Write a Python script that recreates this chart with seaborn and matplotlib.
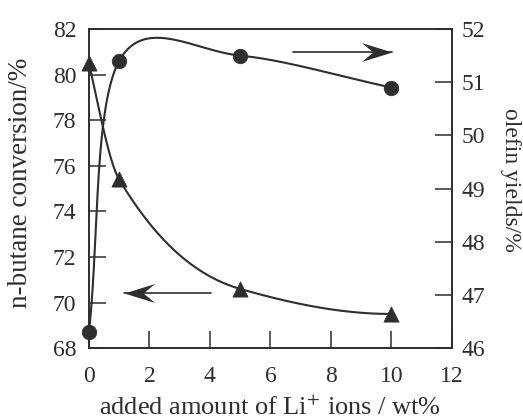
import numpy as np
import pandas as pd
import matplotlib
matplotlib.use("Agg")
import matplotlib.pyplot as plt
from matplotlib.path import Path
import seaborn as sns

# Li+ loading (wt%) and measured responses
li_loading = [0, 1, 5, 10]
butane_conversion = [80.5, 75.4, 70.6, 69.5]   # left axis, %
olefin_yield = [46.3, 51.4, 51.5, 50.9]        # right axis, %

x_ticks = [0, 2, 4, 6, 8, 10, 12]
left_ticks = [68, 70, 72, 74, 76, 78, 80, 82]
right_ticks = [46, 47, 48, 49, 50, 51, 52]

X_LIM = (0, 12)
LEFT_LIM = (68, 82)
RIGHT_LIM = (46, 52)

INK = "#2e2e2e"

FIG_W, FIG_H = 5.23, 4.20
AX_RECT = [0.170, 0.171, 0.694, 0.760]
AX_W_PX = AX_RECT[2] * FIG_W * 100
AX_H_PX = AX_RECT[3] * FIG_H * 100


def pchip_curve(x, y, n=400):
    """Shape-preserving piecewise cubic Hermite curve (Fritsch-Carlson)."""
    x = np.asarray(x, float)
    y = np.asarray(y, float)
    h = np.diff(x)
    d = np.diff(y) / h
    m = np.zeros_like(y)
    for k in range(1, len(x) - 1):
        if d[k - 1] * d[k] > 0:
            w1 = 2 * h[k] + h[k - 1]
            w2 = h[k] + 2 * h[k - 1]
            m[k] = (w1 + w2) / (w1 / d[k - 1] + w2 / d[k])

    def end_slope(h0, h1, d0, d1):
        s = ((2 * h0 + h1) * d0 - h0 * d1) / (h0 + h1)
        if np.sign(s) != np.sign(d0):
            return 0.0
        if np.sign(d0) != np.sign(d1) and abs(s) > abs(3 * d0):
            return 3 * d0
        return s

    m[0] = end_slope(h[0], h[1], d[0], d[1])
    m[-1] = end_slope(h[-1], h[-2], d[-1], d[-2])
    xs = np.linspace(x[0], x[-1], n)
    i = np.clip(np.searchsorted(x, xs) - 1, 0, len(x) - 2)
    t = (xs - x[i]) / h[i]
    h00 = 2 * t**3 - 3 * t**2 + 1
    h10 = t**3 - 2 * t**2 + t
    h01 = -2 * t**3 + 3 * t**2
    h11 = t**3 - t**2
    ys = h00 * y[i] + h10 * h[i] * m[i] + h01 * y[i + 1] + h11 * h[i] * m[i + 1]
    return xs, ys


def catmull_rom_curve(x, y, ylim, n_seg=120):
    """Uniform Catmull-Rom curve through the points, built in screen
    proportions so the bends look right on the page."""
    sx = AX_W_PX / (X_LIM[1] - X_LIM[0])
    sy = AX_H_PX / (ylim[1] - ylim[0])
    P = np.column_stack([np.asarray(x, float) * sx,
                         (np.asarray(y, float) - ylim[0]) * sy])
    P = np.vstack([2 * P[0] - P[1], P, 2 * P[-1] - P[-2]])
    out = []
    s = np.linspace(0, 1, n_seg)[:, None]
    h00 = 2 * s**3 - 3 * s**2 + 1
    h10 = s**3 - 2 * s**2 + s
    h01 = -2 * s**3 + 3 * s**2
    h11 = s**3 - s**2
    for i in range(1, len(P) - 2):
        p0, p1, p2, p3 = P[i - 1], P[i], P[i + 1], P[i + 2]
        seg = h00 * p1 + h10 * (p2 - p0) / 2 + h01 * p2 + h11 * (p3 - p1) / 2
        out.append(seg if i == 1 else seg[1:])
    C = np.vstack(out)
    return C[:, 0] / sx, C[:, 1] / sy + ylim[0]


sns.set_style("ticks")
plt.rcParams["font.family"] = ["Liberation Serif", "DejaVu Serif"]
plt.rcParams["mathtext.fontset"] = "stix"
plt.rcParams["axes.edgecolor"] = INK
plt.rcParams["xtick.color"] = INK
plt.rcParams["ytick.color"] = INK
plt.rcParams["text.color"] = INK
plt.rcParams["axes.labelcolor"] = INK

fig = plt.figure(figsize=(FIG_W, FIG_H), dpi=100)
ax = fig.add_axes(AX_RECT)
ax2 = ax.twinx()

pts = pd.DataFrame({"li": li_loading, "conv": butane_conversion, "yield": olefin_yield})

cx, cy = pchip_curve(li_loading, butane_conversion)
sns.lineplot(x=cx, y=cy, ax=ax, color=INK, linewidth=1.5, sort=False)
sns.scatterplot(data=pts, x="li", y="conv", ax=ax, marker="^", s=120,
                color=INK, edgecolor=INK, linewidth=0.5, zorder=5, clip_on=False)

yx, yy = catmull_rom_curve(li_loading, olefin_yield, RIGHT_LIM)
sns.lineplot(x=yx, y=yy, ax=ax2, color=INK, linewidth=1.5, sort=False)
sns.scatterplot(data=pts, x="li", y="yield", ax=ax2, marker="o", s=110,
                color=INK, edgecolor=INK, linewidth=0.5, zorder=5, clip_on=False)

ax.set_xlim(*X_LIM)
ax.set_ylim(*LEFT_LIM)
ax2.set_ylim(*RIGHT_LIM)
ax.set_xticks(x_ticks)
ax.set_yticks(left_ticks)
ax2.set_yticks(right_ticks)

for a in (ax, ax2):
    for s in a.spines.values():
        s.set_visible(True)
        s.set_linewidth(1.2)
        s.set_color(INK)
ax.tick_params(axis="x", direction="in", length=12, width=1.1, labelsize=17, pad=13)
ax.tick_params(axis="y", direction="in", length=12, width=1.1, labelsize=17, pad=9)
ax2.tick_params(axis="y", direction="in", length=12, width=1.1, labelsize=17, pad=7)

ax.set_xlabel(r"added amount of Li$^{+}$ ions / wt%", fontsize=19, labelpad=6)
ax.set_ylabel("")
ax2.set_ylabel("")
fig.text(21 / 523, 1 - 183 / 420, "n-butane conversion/%", fontsize=19.5,
         rotation=90, ha="center", va="center", color=INK)
fig.text(511 / 523, 1 - 180 / 420, "olefin yields/%", fontsize=17,
         rotation=270, ha="center", va="center", color=INK)

# direction arrows: thin shaft with a swept (stealth) head
stealth = Path([(0, 0), (2, 0.62), (1.25, 0), (2, -0.62), (0, 0)],
               [Path.MOVETO, Path.LINETO, Path.LINETO, Path.LINETO, Path.CLOSEPOLY])
stealth_r = Path(stealth.vertices * [-1, 1], stealth.codes)
arrows = [((4.05, 70.43), (1.15, 70.43), stealth),
          ((6.75, 80.97), (10.02, 80.97), stealth_r)]
for (x0, y0), (x1, y1), head in arrows:
    ax.plot([x0, x1], [y0, y1], color=INK, lw=1.2)
    ax.plot([x1], [y1], marker=head, markersize=44, color=INK,
            markeredgewidth=0, linestyle="none")

fig.savefig("out.png", dpi=100)
